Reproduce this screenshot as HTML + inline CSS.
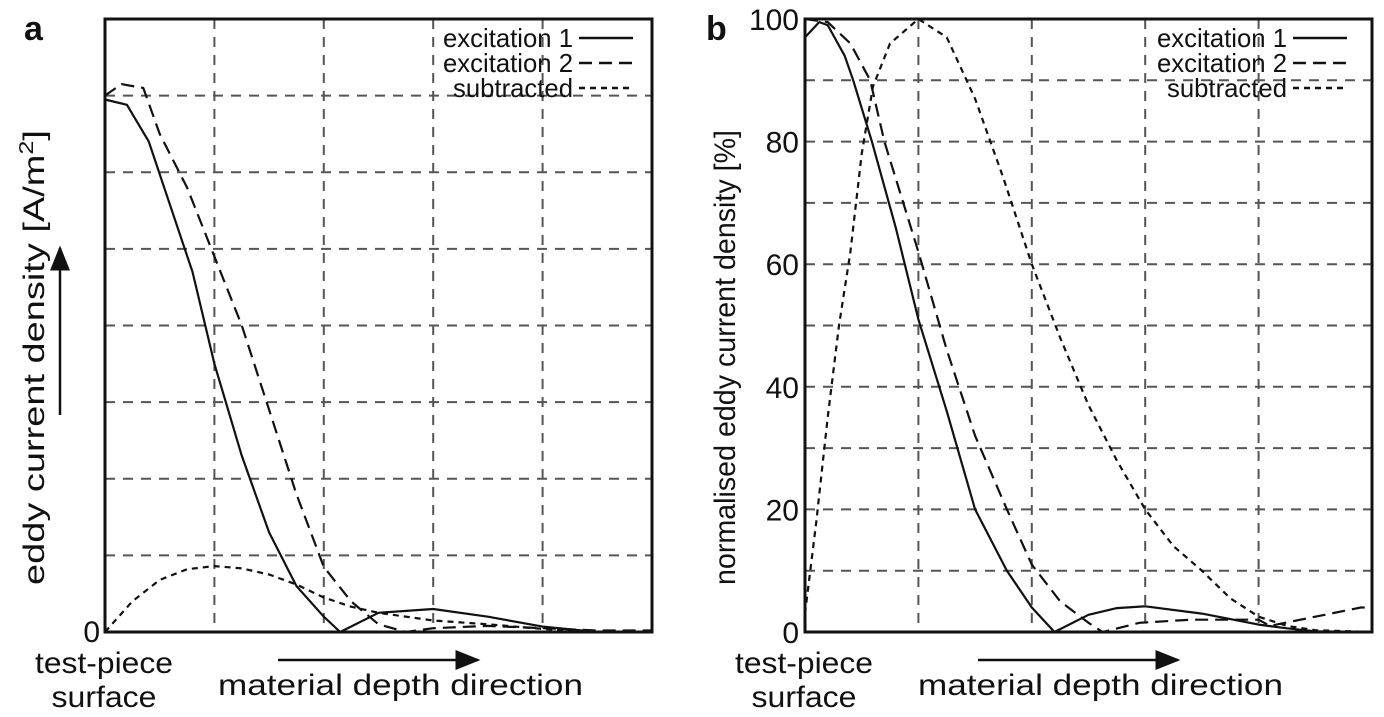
<!DOCTYPE html>
<html><head><meta charset="utf-8"><style>
html,body{margin:0;padding:0;background:#fff}
svg{display:block}
text{font-family:"Liberation Sans",Arial,sans-serif;fill:#111}
</style></head><body>
<svg id="chart" width="1384" height="717" viewBox="0 0 1384 717">
<defs><marker id="ah" markerWidth="10" markerHeight="8" refX="9" refY="4" orient="auto"><path d="M0,0 L10,4 L0,8 z" fill="#111"/></marker></defs>
</svg>
<script>
// ---- data ----
const aEx1X = [0,0.4,0.8,1.2,1.6,2,2.5,3,3.5,4,4.3,5,6,7,8,9,10];
const aEx1Y = [6.95,6.88,6.4,5.55,4.7,3.5,2.3,1.3,0.6,0.2,0,0.25,0.3,0.2,0.07,0,0];
const aEx2X = [0,0.3,0.7,1,1.5,2,2.5,3,3.5,4,4.5,5,5.5,6,7,8,9,10];
const aEx2Y = [7.0,7.15,7.1,6.5,5.8,4.9,4.0,2.9,1.8,0.85,0.4,0.1,0,0.05,0.08,0.05,0.02,0.02];
const aSubX = [0,0.5,1,1.5,2,2.5,3,3.5,4,4.5,5,6,7,8,9,10];
const aSubY = [0,0.4,0.68,0.82,0.86,0.83,0.75,0.62,0.45,0.33,0.25,0.15,0.1,0.04,0,0];
const bEx1X = [0,0.25,0.4,0.7,0.85,1.18,1.6,2,2.5,3,3.56,4,4.4,5,5.5,6,7,8,8.5,9,10];
const bEx1Y = [97,99.5,99,94,90,80,66,51,36,20,10,4,0,2.8,3.9,4.2,3,1.2,0.6,0.1,0];
const bEx2X = [0,0.4,0.8,1.15,1.4,2,2.5,3,3.56,4,4.5,5,5.25,5.9,6.8,8,8.2,9,9.8,10];
const bEx2Y = [100,99.5,96,90,80,62,46,32,20,11,5,1.5,0,1.5,2,2,1,2.5,4,4];
const bSubX = [0,0.2,0.4,0.6,0.8,1,1.2,1.5,2,2.5,3,3.5,4,4.5,5,5.5,6,6.5,7,7.5,8,8.5,9,10];
const bSubY = [3,18,35,50,62,78,89,96,100,97,87,74,60,48,37,28,20,14,10,5.5,2.5,1,0.3,0];
const bTicks = ["0","20","40","60","80","100"];
const legendLabels = ["excitation 1","excitation 2","subtracted"];
const legendLens = [130,130,120];

const svg = document.getElementById('chart');
const NS = 'http://www.w3.org/2000/svg';
function mk(tag, attrs, parent){
  const e = document.createElementNS(NS, tag);
  for (const k in attrs) e.setAttribute(k, attrs[k]);
  (parent||svg).appendChild(e);
  return e;
}
const dashes = ["", "13 7", "6 5"];

function panel(cfg){
  const g = mk('g', {});
  
  
  const L=cfg.L,R=cfg.R,T=19,B=632;
  const sx = v => L + (R-L)*v/10;
  const sy = v => B - (B-T)*v/cfg.ymax;
  for (let i=1;i<5;i++){
    const l = mk('line',{x1:sx(i*2),x2:sx(i*2),y1:T,y2:B,stroke:'#555','stroke-width':2,'stroke-dasharray':'10 8'},g);
    
    
  }
  for (let v=cfg.gstep; v<cfg.ymax-0.001; v+=cfg.gstep){
    const l = mk('line',{x1:L,x2:R,y1:sy(v),y2:sy(v),stroke:'#555','stroke-width':2,'stroke-dasharray':'10 8'},g);
    
    
  }
  cfg.series.forEach((s,i)=>{
    const d = s[0].map((x,j)=>(j?'L':'M')+sx(x).toFixed(1)+','+sy(s[1][j]).toFixed(1)).join(' ');
    const p = mk('path',{d:d,fill:'none',stroke:'#111','stroke-width':2.2,'stroke-dasharray':dashes[i],'stroke-linejoin':'round'},g);
    
    
  });
  const f = mk('rect',{x:L,y:T,width:R-L,height:B-T,fill:'none',stroke:'#111','stroke-width':3},g);
  
  
  legendLabels.forEach((t,i)=>{
    const y = 38 + i*25;
    const tx = mk('text',{x:cfg.legX,y:y+9,'text-anchor':'end','font-size':26,textLength:legendLens[i],lengthAdjust:'spacingAndGlyphs'},g);
    tx.textContent = t;
    
    
    const ln = mk('line',{x1:cfg.legX+6,x2:cfg.legX+60,y1:y,y2:y,stroke:'#111','stroke-width':2.5,'stroke-dasharray':dashes[i]},g);
    
    
  });
  const tp = mk('text',{x:L-1,y:673,'text-anchor':'middle','font-size':30,textLength:138,lengthAdjust:'spacingAndGlyphs'},g);
  tp.textContent='test-piece';
  
  
  const sf = mk('text',{x:L-1,y:707,'text-anchor':'middle','font-size':30,textLength:105,lengthAdjust:'spacingAndGlyphs'},g);
  sf.textContent='surface';
  
  
  const ar = mk('line',{x1:L+173,x2:L+373,y1:660,y2:660,stroke:'#111','stroke-width':2.5,'marker-end':'url(#ah)'},g);
  
  
  const md = mk('text',{x:L+113,y:695,'font-size':30,textLength:365,lengthAdjust:'spacingAndGlyphs'},g);
  md.textContent='material depth direction';
  
  
  const pl = mk('text',{x:cfg.letterX,y:40,'font-size':34,'font-weight':'bold'},g);
  pl.textContent=cfg.letter;
  
  
  return {g,sx,sy};
}

const pa = panel({name:'panel-a',L:105,R:652,ymax:8,gstep:1,legX:573,letter:'a',letterX:24,
  series:[[aEx1X,aEx1Y],[aEx2X,aEx2Y],[aSubX,aSubY]]});
const z = mk('text',{x:100,y:642,'text-anchor':'end','font-size':30},pa.g);
z.textContent='0';


const yl = mk('text',{x:0,y:0,'font-size':30,transform:'translate(44,585) rotate(-90)',textLength:455,lengthAdjust:'spacingAndGlyphs'},pa.g);
yl.innerHTML='eddy current density [A/m<tspan dy="-11" font-size="20">2</tspan><tspan dy="11">]</tspan>';


const ya = mk('line',{x1:60,x2:60,y1:415,y2:248,stroke:'#111','stroke-width':2.5,'marker-end':'url(#ah)'},pa.g);



const pb = panel({name:'panel-b',L:805,R:1372,ymax:100,gstep:10,legX:1287,letter:'b',letterX:706,
  series:[[bEx1X,bEx1Y],[bEx2X,bEx2Y],[bSubX,bSubY]]});
bTicks.forEach(t=>{
  const tt = mk('text',{x:799,y:pb.sy(+t)+11,'text-anchor':'end','font-size':30},pb.g);
  tt.textContent=t;
  
  
});
const yl2 = mk('text',{x:0,y:0,'font-size':30,transform:'translate(735,585) rotate(-90)',textLength:455,lengthAdjust:'spacingAndGlyphs'},pb.g);
yl2.textContent='normalised eddy current density [%]';


</script>
</body></html>
